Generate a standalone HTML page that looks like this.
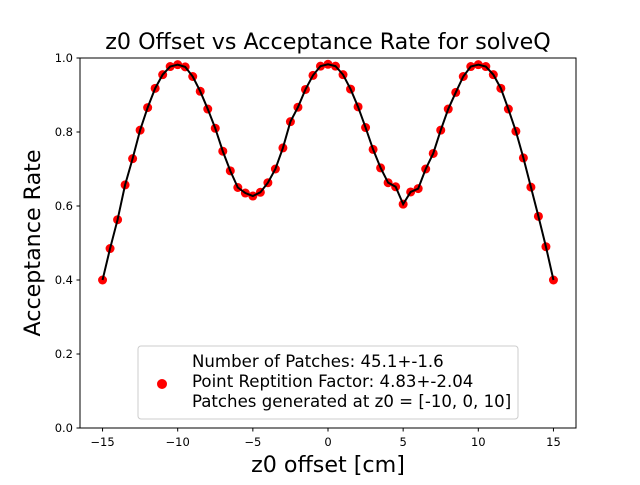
<!DOCTYPE html>
<html><head><meta charset="utf-8"><style>
body{margin:0;background:#fff}
text{font-family:"DejaVu Sans","Liberation Sans",sans-serif}
</style></head><body>
<svg id="chart" width="640" height="480" xmlns="http://www.w3.org/2000/svg">
<rect width="640" height="480" fill="#fff"/>
<text x="328" y="49" font-size="22.2" text-anchor="middle">z0 Offset vs Acceptance Rate for solveQ</text>
<text x="328" y="472" font-size="22.2" text-anchor="middle">z0 offset [cm]</text>
<text transform="translate(40,243) rotate(-90)" font-size="22.2" text-anchor="middle">Acceptance Rate</text>
<g id="ticks"></g>
<g id="marks"></g>
<rect x="80" y="58" width="496" height="370" fill="none" stroke="#000" stroke-width="1"/>
<g>
<rect x="138" y="346" width="380" height="73" rx="3" fill="#fff" fill-opacity="0.8" stroke="#ccc"/>
<circle cx="162" cy="384" r="5" fill="red"/>
<text x="192" y="367" font-size="16.6">Number of Patches: 45.1+-1.6</text>
<text x="192" y="387" font-size="16.6">Point Reptition Factor: 4.83+-2.04</text>
<text x="192" y="407" font-size="16.6">Patches generated at z0 = [-10, 0, 10]</text>
</g>
</svg>
<script>
const xValues=[-15,-14.5,-14,-13.5,-13,-12.5,-12,-11.5,-11,-10.5,-10,-9.5,-9,-8.5,-8,-7.5,-7,-6.5,-6,-5.5,-5,-4.5,-4,-3.5,-3,-2.5,-2,-1.5,-1,-0.5,0,0.5,1,1.5,2,2.5,3,3.5,4,4.5,5,5.5,6,6.5,7,7.5,8,8.5,9,9.5,10,10.5,11,11.5,12,12.5,13,13.5,14,14.5,15];
const rates=[0.40,0.485,0.563,0.657,0.728,0.805,0.866,0.918,0.955,0.977,0.982,0.976,0.950,0.910,0.862,0.810,0.748,0.695,0.650,0.635,0.627,0.637,0.663,0.700,0.757,0.828,0.867,0.915,0.953,0.978,0.983,0.978,0.955,0.916,0.868,0.812,0.753,0.703,0.663,0.652,0.605,0.638,0.647,0.700,0.742,0.805,0.862,0.907,0.950,0.977,0.982,0.977,0.955,0.918,0.862,0.802,0.730,0.651,0.572,0.490,0.40];
const xTicks=[-15,-10,-5,0,5,10,15];
const yTicks=[0,0.2,0.4,0.6,0.8,1.0];
const yTickLabels=["0.0","0.2","0.4","0.6","0.8","1.0"];
const NS="http://www.w3.org/2000/svg";
const sx=v=>80+(v+16.5)/33*496;
const sy=v=>428-v*370;
const tg=document.getElementById('ticks'),mg=document.getElementById('marks');
function mk(t,a,p){const e=document.createElementNS(NS,t);for(const k in a)e.setAttribute(k,a[k]);p.appendChild(e);return e;}
xTicks.forEach(t=>{
 const l=mk('line',{x1:sx(t),x2:sx(t),y1:428,y2:431.5,stroke:'#000'},tg);
 
 
 const tx=mk('text',{x:sx(t),y:446,'font-size':'11.5','text-anchor':'middle'},tg);tx.textContent=String(t).replace('-','\u2212');
 
 
});
yTicks.forEach((t,i)=>{
 const l=mk('line',{x1:76.5,x2:80,y1:sy(t),y2:sy(t),stroke:'#000'},tg);
 
 
 const tx=mk('text',{x:73,y:sy(t)+4,'font-size':'11.5','text-anchor':'end'},tg);tx.textContent=yTickLabels[i];
 
 
});
xValues.forEach((x,i)=>{
 const c=mk('circle',{cx:sx(x),cy:sy(rates[i]),r:4.5,fill:'red'},mg);
 
 
});
const pl=mk('polyline',{points:xValues.map((x,i)=>sx(x)+','+sy(rates[i])).join(' '),fill:'none',stroke:'#000','stroke-width':2},mg);


</script>
</body></html>
